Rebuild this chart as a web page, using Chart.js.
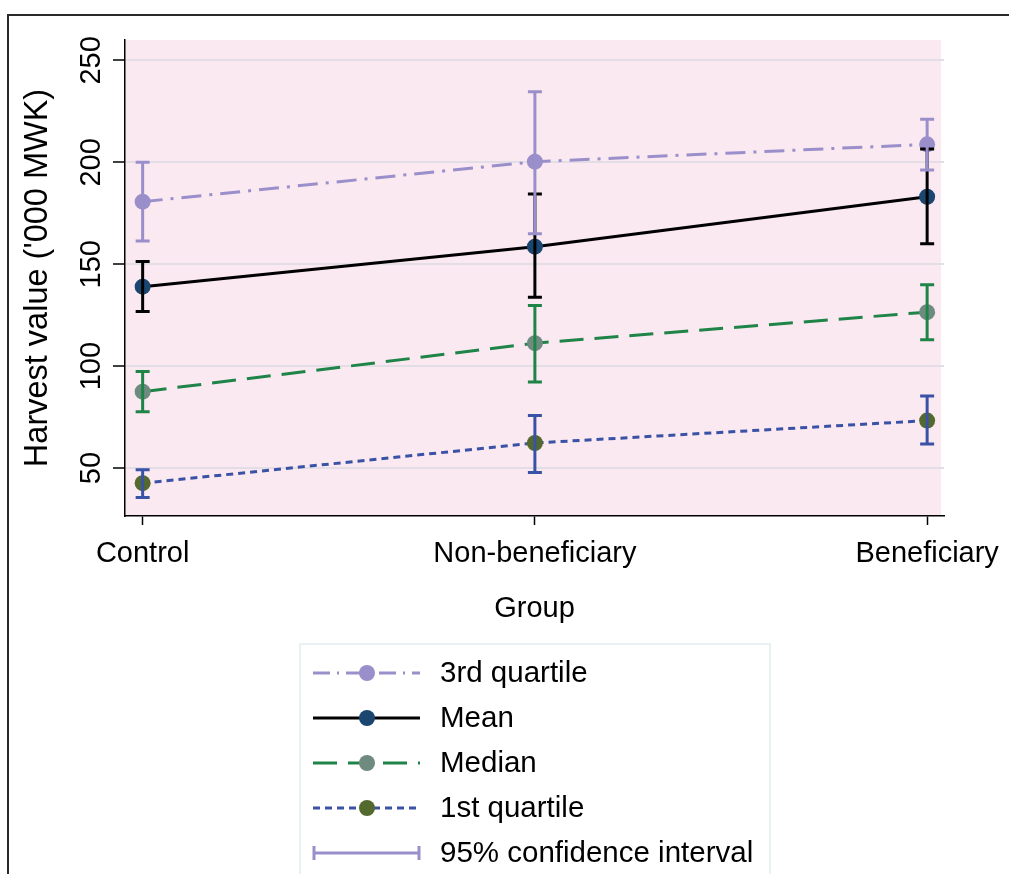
<!DOCTYPE html>
<html>
<head>
<meta charset="utf-8">
<script src="https://cdn.jsdelivr.net/npm/chart.js@4"></script>
<style>
  html, body { margin: 0; padding: 0; background: #fff; }
  canvas { display: block; }
</style>
</head>
<body>
<canvas id="harvestChart" width="1009" height="874"></canvas>
<script>
const groups = ['Control', 'Non-beneficiary', 'Beneficiary'];
const yTicks = [50, 100, 150, 200, 250];

// point estimates
const q3Vals     = [180.7, 200.3, 208.8];
const meanVals   = [139.0, 158.6, 183.1];
const medianVals = [87.5, 111.3, 126.5];
const q1Vals     = [42.6, 62.3, 73.3];

// 95% confidence intervals
const q3Lo     = [161.4, 164.9, 196.2];
const q3Hi     = [200.0, 234.6, 221.1];
const meanLo   = [126.8, 133.8, 160.0];
const meanHi   = [151.3, 184.5, 206.5];
const medianLo = [77.7, 92.2, 112.9];
const medianHi = [97.4, 129.7, 139.9];
const q1Lo     = [35.6, 47.8, 61.8];
const q1Hi     = [49.2, 75.8, 85.4];

const FONT = '"Liberation Sans", Arial, sans-serif';
const ctx = document.getElementById('harvestChart');

function pts(vals) {
  return vals.map((v, i) => ({ x: i, y: v }));
}

function series(label, vals, lineColor, markerColor, dash) {
  return {
    label: label,
    data: pts(vals),
    borderColor: lineColor,
    borderWidth: 3,
    borderDash: dash,
    backgroundColor: markerColor,
    pointBackgroundColor: markerColor,
    pointBorderColor: markerColor,
    pointBorderWidth: 0,
    pointRadius: 8,
    tension: 0,
    fill: false,
    clip: false
  };
}

const ciSets = [
  { lo: meanLo, hi: meanHi, color: '#000000' },
  { lo: medianLo, hi: medianHi, color: '#1f8447' },
  { lo: q1Lo, hi: q1Hi, color: '#3a52a6' },
  { lo: q3Lo, hi: q3Hi, color: '#9a8fca' }
];

const pinkBg = {
  id: 'pinkBg',
  beforeDraw(chart) {
    const a = chart.chartArea, c = chart.ctx;
    c.save();
    c.fillStyle = '#fbe9f2';
    c.fillRect(a.left, a.top, a.right - a.left - 3, a.bottom - a.top);
    c.restore();
  }
};

const errorBars = {
  id: 'errorBars',
  afterDatasetsDraw(chart) {
    const c = chart.ctx, xs = chart.scales.x, ys = chart.scales.y;
    c.save();
    c.lineWidth = 3;
    ciSets.forEach(s => {
      c.strokeStyle = s.color;
      s.lo.forEach((lo, i) => {
        const x = xs.getPixelForValue(i);
        const y1 = ys.getPixelForValue(lo);
        const y2 = ys.getPixelForValue(s.hi[i]);
        c.beginPath();
        c.moveTo(x, y1); c.lineTo(x, y2);
        c.moveTo(x - 7, y1); c.lineTo(x + 7, y1);
        c.moveTo(x - 7, y2); c.lineTo(x + 7, y2);
        c.stroke();
      });
    });
    c.restore();
  }
};

const extras = {
  id: 'extras',
  afterDraw(chart) {
    const c = chart.ctx, ys = chart.scales.y;
    c.save();
    // rotated y tick labels
    c.fillStyle = '#000';
    c.font = '29px ' + FONT;
    c.textAlign = 'center';
    c.textBaseline = 'middle';
    yTicks.forEach(v => {
      c.save();
      c.translate(92, ys.getPixelForValue(v));
      c.rotate(-Math.PI / 2);
      c.fillText(String(v), 0, 0);
      c.restore();
    });

    // outer frame
    c.strokeStyle = '#2a2a2a';
    c.lineWidth = 2;
    c.beginPath();
    c.moveTo(1009, 15); c.lineTo(8, 15); c.lineTo(8, 874);
    c.stroke();

    // legend
    c.strokeStyle = '#e2eeee';
    c.lineWidth = 1.5;
    c.strokeRect(300, 644, 470, 240);
    c.font = '29.5px ' + FONT;
    const rowY = [673, 718, 763, 808, 853];
    chart.data.datasets.forEach((ds, i) => {
      const y = rowY[i];
      c.strokeStyle = ds.borderColor;
      c.lineWidth = 3;
      c.setLineDash(ds.legendDash);
      c.beginPath(); c.moveTo(313, y); c.lineTo(420, y); c.stroke();
      c.setLineDash([]);
      c.fillStyle = ds.pointBackgroundColor;
      c.beginPath(); c.arc(367, y, 8, 0, Math.PI * 2); c.fill();
      c.fillStyle = '#000';
      c.textAlign = 'left';
      c.fillText(ds.label, 440, y + 1);
    });
    const y = rowY[4];
    c.strokeStyle = '#9a8fca';
    c.lineWidth = 3;
    c.beginPath();
    c.moveTo(314, y); c.lineTo(419, y);
    c.moveTo(314, y - 7); c.lineTo(314, y + 7);
    c.moveTo(419, y - 7); c.lineTo(419, y + 7);
    c.stroke();
    c.fillStyle = '#000';
    c.fillText('95% confidence interval', 440, y + 1);
    c.restore();
  }
};

const datasets = [
  series('3rd quartile', q3Vals, '#9a8fca', '#9a8fca', [20, 8, 3, 8]),
  series('Mean', meanVals, '#000000', '#1b4670', []),
  series('Median', medianVals, '#1f8447', '#6f8b80', [24, 11]),
  series('1st quartile', q1Vals, '#3a52a6', '#53692e', [7, 5])
];
datasets[0].legendDash = [17, 7, 2, 7];
datasets[1].legendDash = [];
datasets[2].legendDash = [24, 11];
datasets[3].legendDash = [7, 5];

new Chart(ctx, {
  type: 'line',
  data: { datasets: datasets },
  options: {
    responsive: false,
    animation: false,
    layout: { padding: { left: 0, top: 40, right: 65, bottom: 230 } },
    plugins: {
      legend: { display: false },
      tooltip: { enabled: false }
    },
    scales: {
      x: {
        type: 'linear',
        min: -0.045,
        max: 2.043,
        afterBuildTicks: s => { s.ticks = groups.map((g, i) => ({ value: i })); },
        afterFit: s => { s.height = 128; s.paddingLeft = 0; s.paddingRight = 0; },
        ticks: {
          color: '#000',
          font: { family: FONT, size: 29 },
          padding: 12,
          callback: v => groups[v]
        },
        grid: { drawOnChartArea: false, tickLength: 9, tickColor: '#000', tickWidth: 1.5 },
        border: { color: '#000', width: 1.5 },
        title: {
          display: true,
          text: 'Group',
          color: '#000',
          font: { family: FONT, size: 29 },
          padding: { top: 0, bottom: 18 }
        }
      },
      y: {
        min: 26.5,
        max: 260,
        afterBuildTicks: s => { s.ticks = yTicks.map(v => ({ value: v })); },
        afterFit: s => { s.width = 125; s.paddingTop = 0; s.paddingBottom = 0; },
        ticks: { display: false },
        grid: { color: '#e3dee6', lineWidth: 2, tickLength: 12, tickColor: '#000', tickWidth: 1.5 },
        border: { color: '#000', width: 1.5 },
        title: {
          display: true,
          text: "Harvest value ('000 MWK)",
          color: '#000',
          font: { family: FONT, size: 32.5 },
          padding: { top: 19, bottom: 0 }
        }
      }
    }
  },
  plugins: [pinkBg, errorBars, extras]
});
</script>
</body>
</html>
